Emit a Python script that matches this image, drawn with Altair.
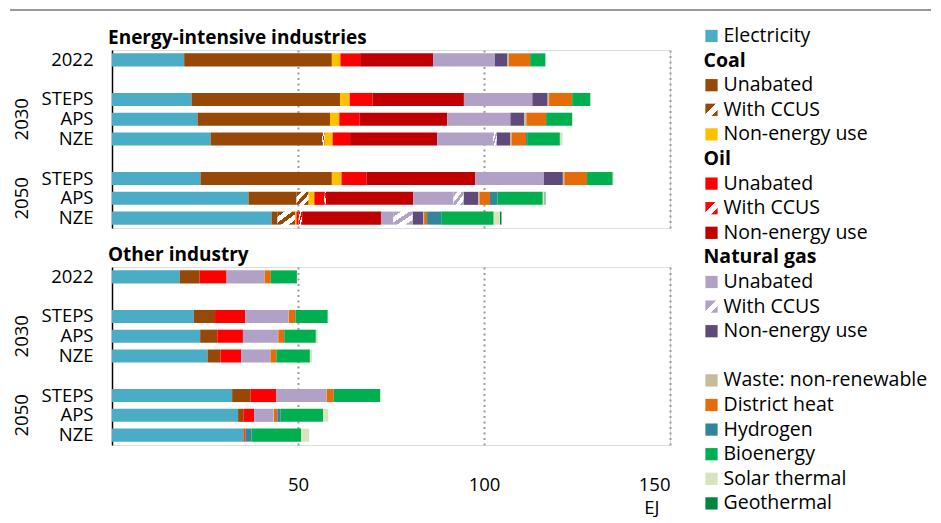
import altair as alt
import pandas as pd

FONT = "Open Sans"

categories = [
    "Electricity", "Coal: Unabated", "Coal: With CCUS", "Coal: Non-energy use",
    "Oil: Unabated", "Oil: With CCUS", "Oil: Non-energy use",
    "Natural gas: Unabated", "Natural gas: With CCUS", "Natural gas: Non-energy use",
    "Waste: non-renewable", "District heat", "Hydrogen", "Bioenergy",
    "Solar thermal", "Geothermal",
]
colors = [
    "#4BACC6", "#974706", "#974706", "#FFC000",
    "#FF0000", "#FF0000", "#C00000",
    "#B2A1C7", "#B2A1C7", "#604A7B",
    "#C4BD97", "#E46C0A", "#31859C", "#00B050",
    "#D7E4BD", "#00853E",
]
ccus_cats = ["Coal: With CCUS", "Oil: With CCUS", "Natural gas: With CCUS"]
ccus_colors = ["#974706", "#FF0000", "#B2A1C7"]

row_keys = ["2022", "2030 STEPS", "2030 APS", "2030 NZE", "2050 STEPS", "2050 APS", "2050 NZE"]
y_domain = ["2022", "g1", "2030 STEPS", "2030 APS", "2030 NZE", "g2", "2050 STEPS", "2050 APS", "2050 NZE"]
year_keys = ["2030 APS", "2050 APS"]
year_labels = ["2030", "2050"]
panel_titles = ["Energy-intensive industries", "Other industry"]
x_ticks = [50, 100, 150]

# Energy-intensive industries (EJ), in the order of `categories`
eii_2022       = [19.4, 39.7, 0.0, 2.3, 5.3, 0.0, 19.6, 16.6, 0.0, 3.4, 0.4, 5.7, 0.0, 4.1, 0.0, 0.0]
eii_2030_steps = [21.4, 39.9, 0.0, 2.6, 6.1, 0.0, 24.6, 18.4, 0.0, 4.1, 0.4, 6.2, 0.0, 4.9, 0.2, 0.0]
eii_2030_aps   = [23.0, 35.6, 0.0, 2.5, 5.4, 0.0, 23.6, 17.0, 0.0, 3.7, 0.6, 5.3, 0.0, 7.0, 0.2, 0.0]
eii_2030_nze   = [26.5, 30.0, 0.6, 2.2, 4.7, 0.0, 23.4, 15.0, 1.0, 3.6, 0.4, 3.9, 0.3, 8.8, 0.7, 0.0]
eii_2050_steps = [23.8, 35.3, 0.0, 2.6, 6.7, 0.0, 29.2, 18.5, 0.0, 5.1, 0.4, 6.1, 0.0, 6.9, 0.2, 0.0]
eii_2050_aps   = [36.7, 12.9, 3.2, 1.6, 2.7, 0.4, 23.5, 10.8, 2.7, 3.9, 0.4, 2.8, 2.0, 12.2, 0.5, 0.2]
eii_2050_nze   = [42.9, 1.6, 4.7, 0.4, 0.6, 0.9, 21.2, 3.3, 5.2, 2.9, 0.2, 0.8, 3.8, 14.1, 1.7, 0.4]

# Other industry (EJ)
oth_2022       = [18.2, 5.3, 0.0, 0.0, 7.3, 0.0, 0.0, 10.1, 0.0, 0.0, 0.1, 1.7, 0.0, 7.0, 0.0, 0.0]
oth_2030_steps = [22.0, 5.7, 0.0, 0.0, 8.1, 0.0, 0.0, 11.6, 0.0, 0.0, 0.1, 1.8, 0.0, 8.7, 0.1, 0.0]
oth_2030_aps   = [23.7, 4.6, 0.0, 0.0, 6.9, 0.0, 0.0, 9.4, 0.0, 0.0, 0.1, 1.6, 0.0, 8.5, 0.5, 0.0]
oth_2030_nze   = [25.7, 3.5, 0.0, 0.0, 5.5, 0.0, 0.0, 7.8, 0.0, 0.0, 0.1, 1.6, 0.0, 9.0, 0.6, 0.0]
oth_2050_steps = [32.3, 4.9, 0.0, 0.0, 6.9, 0.0, 0.0, 13.5, 0.0, 0.0, 0.1, 1.9, 0.0, 12.5, 0.3, 0.0]
oth_2050_aps   = [33.9, 1.4, 0.0, 0.0, 2.9, 0.0, 0.0, 5.2, 0.0, 0.0, 0.15, 0.9, 0.9, 11.4, 1.4, 0.0]
oth_2050_nze   = [35.4, 0.0, 0.0, 0.0, 0.3, 0.0, 0.0, 0.0, 0.0, 0.0, 0.0, 0.3, 1.5, 13.4, 2.1, 0.0]

legend_labels = ["Electricity", "Coal", "Unabated", "With CCUS", "Non-energy use",
                 "Oil", "Unabated", "With CCUS", "Non-energy use",
                 "Natural gas", "Unabated", "With CCUS", "Non-energy use", "",
                 "Waste: non-renewable", "District heat", "Hydrogen", "Bioenergy",
                 "Solar thermal", "Geothermal"]
legend_cats = ["Electricity", "", "Coal: Unabated", "Coal: With CCUS", "Coal: Non-energy use",
               "", "Oil: Unabated", "Oil: With CCUS", "Oil: Non-energy use",
               "", "Natural gas: Unabated", "Natural gas: With CCUS", "Natural gas: Non-energy use", "",
               "Waste: non-renewable", "District heat", "Hydrogen", "Bioenergy",
               "Solar thermal", "Geothermal"]


def build(rows_vals):
    recs = []
    for key, vals in zip(row_keys, rows_vals):
        s = 0.0
        for cat, v in zip(categories, vals):
            if v > 0:
                recs.append({"key": key, "cat": cat, "start": s, "end": s + v})
            s += v
    return pd.DataFrame(recs)


def hatch(c, legend=False):
    if legend:
        offs = [(0, c), (0.42, c), (0.42, "white"), (0.74, "white"), (0.74, c), (1, c)]
    else:
        offs = [(0, c), (0.2, c), (0.2, "white"), (0.42, "white"), (0.42, c),
                (0.6, c), (0.6, "white"), (0.82, "white"), (0.82, c), (1, c)]
    return {"gradient": "linear", "x1": 0, "y1": 0, "x2": 1, "y2": 1,
            "stops": [{"offset": o, "color": col} for o, col in offs]}


color_scale = alt.Scale(domain=categories, range=colors)
W, H = 558, 178
LBL = 18.5
LEG = 19.5
label_expr = ("length(datum.label) < 4 ? '' : (indexof(datum.label, ' ') > 0 ? "
              "split(datum.label, ' ')[1] : datum.label)")


def legend_layers():
    step = 24.6
    a = 14 / step
    b = a + H / step
    leg = pd.DataFrame({"slot": list(range(len(legend_labels))), "label": legend_labels, "cat": legend_cats})
    leg["kind"] = ["header" if (c == "" and l != "") else ("blank" if l == "" else ("ccus" if c in ccus_cats else "item"))
                   for l, c in zip(legend_labels, legend_cats)]
    ly = alt.Y("slot:Q", scale=alt.Scale(domain=[a, b], reverse=True, nice=False, zero=False), axis=None)
    lbase = alt.Chart(leg)
    out = [lbase.transform_filter(alt.datum.kind == "item").mark_square(size=150, opacity=1).encode(
        x=alt.value(599.5), y=ly, color=alt.Color("cat:N", scale=color_scale, legend=None))]
    for c, col in zip(ccus_cats, ccus_colors):
        out.append(lbase.transform_filter(alt.datum.cat == c).mark_square(
            size=150, opacity=1, color=hatch(col, legend=True)).encode(x=alt.value(599.5), y=ly))
    out.append(lbase.transform_filter("datum.kind == 'item' || datum.kind == 'ccus'").mark_text(
        align="left", baseline="middle", fontSize=LEG, font=FONT, color="black").encode(
        x=alt.value(611.5), y=ly, text="label:N"))
    out.append(lbase.transform_filter(alt.datum.kind == "header").mark_text(
        align="left", baseline="middle", fontSize=LEG, font=FONT, fontWeight="bold", color="black").encode(
        x=alt.value(591.5), y=ly, text="label:N"))
    return out


def panel(df, title, bottom):
    xaxis = alt.Axis(values=x_ticks, grid=True, gridDash=[2, 3.5], gridColor="#9a9a9a",
                     gridWidth=2, gridCap="butt", ticks=False, domain=False,
                     labels=bottom, labelFontSize=LBL, labelColor="black", labelFont=FONT,
                     labelPadding=30,
                     title="EJ" if bottom else None,
                     titleX=547, titleY=68, titleAlign="right", titleBaseline="alphabetic",
                     titleFontWeight="normal", titleFontSize=LBL, titleColor="black", titleFont=FONT)
    x = alt.X("start:Q", scale=alt.Scale(domain=[0, 150], nice=False, zero=True), axis=xaxis)
    yscale = alt.Scale(domain=y_domain, paddingInner=0.34, paddingOuter=0.17)
    y = alt.Y("key:N", sort=y_domain, scale=yscale,
              axis=alt.Axis(title=None, ticks=False, domainColor="black", domainWidth=1.5,
                            labelFontSize=LBL, labelColor="black", labelFont=FONT, labelPadding=19,
                            labelExpr=label_expr))
    y_na = alt.Y("key:N", sort=y_domain, scale=yscale, axis=None)
    base = alt.Chart(df)
    solid = base.transform_filter(
        alt.FieldOneOfPredicate(field="cat", oneOf=[c for c in categories if c not in ccus_cats])
    ).mark_bar().encode(
        x=x, x2="end:Q", y=y,
        color=alt.Color("cat:N", scale=color_scale, legend=None),
    )
    layers = [solid]
    for c, col in zip(ccus_cats, ccus_colors):
        layers.append(base.transform_filter(alt.datum.cat == c).mark_bar(color=hatch(col)).encode(
            x=x, x2="end:Q", y=y_na))
    layers.append(alt.Chart(pd.DataFrame({"key": year_keys, "txt": year_labels})).mark_text(
        angle=270, fontSize=LBL, font=FONT, color="black", align="center", baseline="middle"
    ).encode(y=y_na, text="txt:N", x=alt.value(-90)))
    layers.append(alt.Chart(pd.DataFrame({"t": [title]})).mark_text(
        align="left", baseline="alphabetic", fontSize=19, fontWeight="bold", font=FONT, color="black"
    ).encode(x=alt.value(-4), y=alt.value(-6), text="t:N"))
    if not bottom:
        layers.append(alt.Chart(pd.DataFrame({"a": [0]})).mark_rule(color="#999999", strokeWidth=2).encode(
            x=alt.value(-102), x2=alt.value(819), y=alt.value(-40)))
        layers += legend_layers()
    return alt.layer(*layers).resolve_scale(y="independent").properties(width=W, height=H)


top = panel(build([eii_2022, eii_2030_steps, eii_2030_aps, eii_2030_nze,
                   eii_2050_steps, eii_2050_aps, eii_2050_nze]), panel_titles[0], False)
bot = panel(build([oth_2022, oth_2030_steps, oth_2030_aps, oth_2030_nze,
                   oth_2050_steps, oth_2050_aps, oth_2050_nze]), panel_titles[1], True)

chart = alt.vconcat(top, bot, spacing=39, bounds="flush").properties(
    padding=0).configure_view(stroke=None).configure(font=FONT)

chart.save("out.html", embed_options={"renderer": "svg", "actions": False})
